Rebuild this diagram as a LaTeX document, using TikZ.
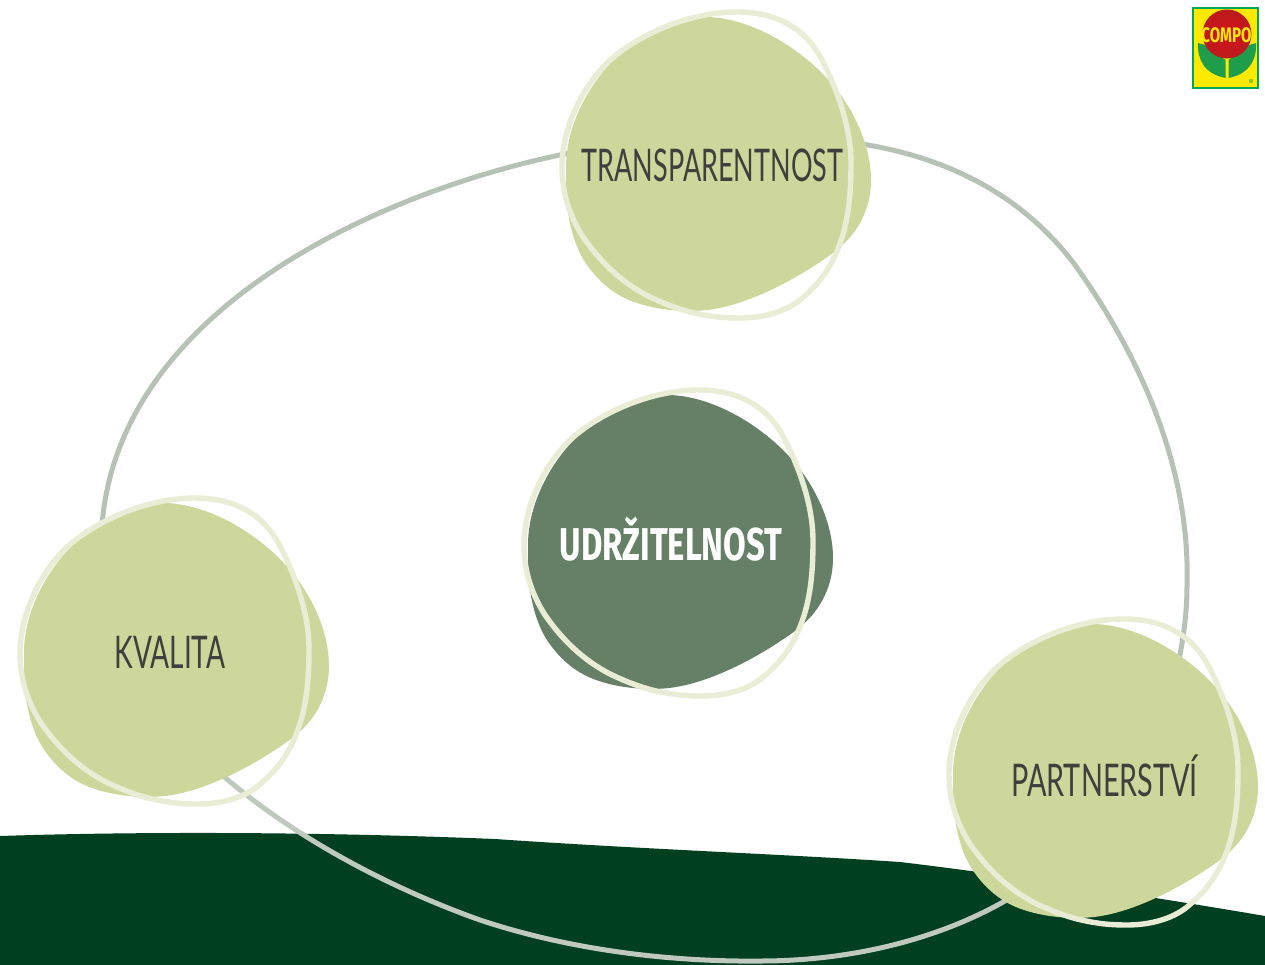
\documentclass[tikz,border=0pt]{standalone}
\usepackage{fontspec}
\newfontfamily\dintrans[FakeStretch=0.60]{Lato}
\newfontfamily\dinkval[FakeStretch=0.625]{Lato}
\newfontfamily\dinpart[FakeStretch=0.64]{Lato}
\newfontfamily\dinbold[FakeStretch=0.715]{Fira Sans}
\newfontfamily\logofont[FakeStretch=0.72]{Fira Sans}
\definecolor{blobgreen}{HTML}{CDD79B}
\definecolor{ringgreen}{HTML}{E9EDD6}
\definecolor{coregreen}{HTML}{668067}
\definecolor{linegrey}{HTML}{B5C2B5}
\definecolor{linepale}{HTML}{BFC9BE}
\definecolor{ground}{HTML}{003F1F}
\definecolor{txt}{HTML}{403F3D}
\definecolor{logogreen}{HTML}{00A651}
\definecolor{leafgreen}{HTML}{1E9E4A}
\definecolor{logored}{HTML}{D4121B}
\definecolor{logodark}{HTML}{BC1A1C}
\definecolor{logoyellow}{HTML}{FFE900}
\tikzset{
  linkline/.style={draw=linegrey,line width=5pt},
  linkpale/.style={draw=linepale,line width=5pt},
  ringline/.style={draw=ringgreen,line width=5.4pt},
  lbl/.style={text=txt,inner sep=0pt,anchor=base},
  lblbold/.style={font=\dinbold\bfseries\fontsize{46}{46}\selectfont,text=white,inner sep=0pt,anchor=base},
}
% blob with origin at its top point (705,17 in the top blob)
\newcommand{\blobshape}[3]{%
  \begin{scope}[shift={(#1,#2)}]
    \fill[#3] (0,0)
      .. controls (45,0) and (100,32) .. (132,73)
      .. controls (150,96) and (166,130) .. (166,163)
      .. controls (166,195) and (150,220) .. (128,236)
      .. controls (95,260) and (45,288) .. (2,293)
      .. controls (-20,295.5) and (-47,293) .. (-68,286)
      .. controls (-90,279) and (-106,265) .. (-118,248)
      .. controls (-128,234) and (-134,215) .. (-137,195)
      .. controls (-139,180) and (-139,165) .. (-139,150)
      .. controls (-139,110) and (-118,72) .. (-96,48)
      .. controls (-72,22) and (-35,1) .. (0,0) -- cycle;
    \draw[ringline] (32,-5)
      .. controls (70,-5) and (100,10) .. (117,43)
      .. controls (132,72) and (146,110) .. (146,146)
      .. controls (146,185) and (142,215) .. (128,243)
      .. controls (118,262) and (108,272) .. (95,283)
      .. controls (80,295) and (58,301) .. (35,301)
      .. controls (15,301) and (2,299) .. (-15,295)
      .. controls (-30,291) and (-42,286) .. (-55,280)
      .. controls (-85,265) and (-106,243) .. (-122,220)
      .. controls (-136,198) and (-143,175) .. (-143,150)
      .. controls (-143,112) and (-124,72) .. (-98,46)
      .. controls (-72,21) and (-20,-5) .. (32,-5) -- cycle;
  \end{scope}}
\begin{document}
\begin{tikzpicture}[x=1pt,y=-1pt]
\useasboundingbox (0,0) rectangle (1265,965);
\fill[white] (0,0) rectangle (1265,965);
% ground
\fill[ground] (0,836) .. controls (120,832) and (300,831) .. (495,839)
  .. controls (640,849) and (780,854) .. (900,862)
  .. controls (1000,874) and (1130,893) .. (1265,916)
  -- (1265,965) -- (0,965) -- cycle;
% free ends of connectors
\coordinate (tL) at (575,152);
\coordinate (tR) at (855,143);
\coordinate (kT) at (102,525);
\coordinate (kB) at (222,775);
\coordinate (pT) at (1178,665);
\coordinate (pB) at (1015,895);
\draw[linkline] (tL) .. controls (400,185) and (120,300) .. (kT);
\draw[linkline] (tR) .. controls (960,158) and (1030,205) .. (1075,265)
  .. controls (1150,370) and (1190,480) .. (1187,585)
  .. controls (1187,615) and (1183,640) .. (pT);
\draw[linkpale] (kB) .. controls (295,838) and (390,888) .. (480,920)
  .. controls (570,950) and (670,962) .. (760,961)
  .. controls (860,961) and (950,935) .. (pB);
% blobs
\blobshape{705}{17}{blobgreen}
\blobshape{163}{503}{blobgreen}
\blobshape{667}{395}{coregreen}
\blobshape{1092}{624}{blobgreen}
% labels
\node[lbl,font=\dintrans\fontsize{45}{45}\selectfont] (transp) at (712.5,182) {TRANSPARENTNOST};
\node[lbl,font=\dinkval\fontsize{45}{45}\selectfont] (kval) at (170,668) {KVALITA};
\node[lbl,font=\dinpart\fontsize{45}{45}\selectfont] (partner) at (1104.5,796) {PARTNERSTVÍ};
\node[lblbold] (core) at (671,560) {UDRŽITELNOST};
% logo
\fill[logoyellow] (1192.5,8.5) rectangle (1258,88);
\fill[leafgreen] (1198,43) .. controls (1197,60) and (1205,74) .. (1225.5,78) -- (1225.5,60) -- (1205,45) -- cycle;
\fill[leafgreen] (1256,43) .. controls (1257,60) and (1249,74) .. (1228.5,78) -- (1228.5,60) -- (1249,45) -- cycle;
\shade[inner color=logored,outer color=logodark] (1227,34) circle (24.5);
\node[font=\logofont\bfseries\fontsize{21}{21}\selectfont,text=logoyellow,inner sep=0pt,anchor=base] (logo) at (1226.5,43) {COMPO};
\fill[leafgreen!50!logoyellow] (1251,81) circle (2.2);
\draw[logogreen,line width=2pt] (1192.5,8.5) rectangle (1258,88);
\end{tikzpicture}
\end{document}
